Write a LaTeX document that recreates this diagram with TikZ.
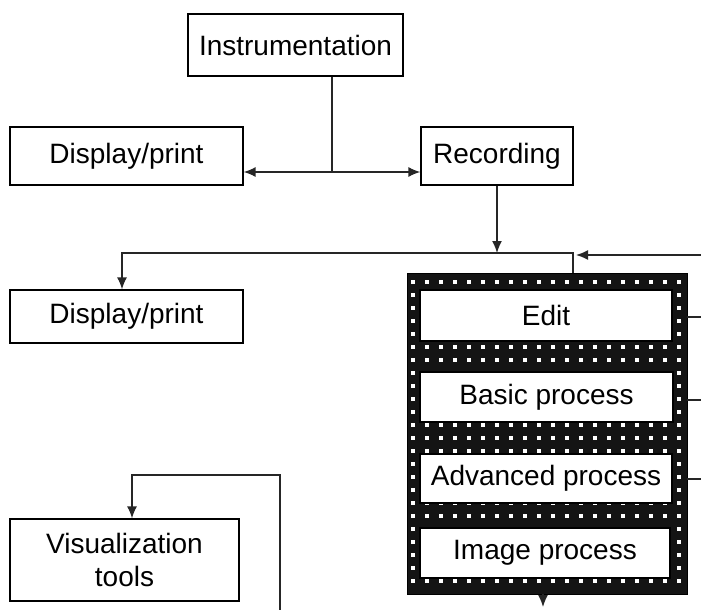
\documentclass[tikz,border=0pt]{standalone}
\usepackage{fontspec}
\setmainfont{Liberation Sans}
\usetikzlibrary{arrows.meta}
\tikzset{
  box/.style={draw=black, line width=1.2pt, fill=white, inner sep=0pt, align=center,
    font=\fontsize{28}{33}\selectfont},
  conn/.style={draw=black!85, line width=1.5pt},
  arr/.style={conn, -{Latex[length=12pt,width=10pt]}},
  darr/.style={conn, {Latex[length=12pt,width=10pt]}-{Latex[length=12pt,width=10pt]}}
}
\begin{document}
\begin{tikzpicture}[x=1pt,y=-1pt]
\useasboundingbox (0,0) rectangle (701,610);
% boxes
\node[box, minimum width=215pt, minimum height=62pt] (instr) at (295.5,45) {Instrumentation};
\node[box, minimum width=233pt, minimum height=58pt] (disp1) at (126.5,156) {Display/print};
\node[box, minimum width=152pt, minimum height=58pt] (rec) at (497,156) {Recording};
\node[box, minimum width=233pt, minimum height=53pt] (disp2) at (126.5,316.5) {Display/print};
\node[box, minimum width=229pt, minimum height=82pt] (vis) at (124.5,560) {Visualization\\tools};
% dotted frame
\node[fill=black!92, draw=black, minimum width=280pt, minimum height=321pt, inner sep=0pt] (outer) at (547,433.5) {};
\foreach \i in {0,...,19}{
  \foreach \j in {0,...,23}{
    \fill[white] ({413+14*\i-1.8},{282+13*\j-1.8}) rectangle ++(3.6,3.6);
  }
}
\node[box, minimum width=252pt, minimum height=51pt] (edit) at (546,315.5) {Edit};
\node[box, minimum width=253pt, minimum height=50pt] (basic) at (546.5,397) {Basic process};
\node[box, minimum width=252pt, minimum height=49pt] (adv) at (546,478.5) {Advanced process};
\node[box, minimum width=250pt, minimum height=50pt] (img) at (545,553) {Image process};
% coordinates
\coordinate (j1) at (332,172);
\coordinate (bus) at (497,253);
\coordinate (busL) at (122,253);
\coordinate (busR) at (573,253);
\coordinate (fbR) at (701,255);
\coordinate (fbT) at (576,255);
\coordinate (r1) at (701,317);
\coordinate (r2) at (701,400);
\coordinate (r3) at (701,479);
\coordinate (outB) at (543,607);
\coordinate (loopS) at (280,610);
\coordinate (loopT) at (280,475);
\coordinate (loopL) at (132,475);
% connectors
\draw[conn] (instr.south -| j1) -- (j1);
\draw[darr] (disp1.east |- j1) -- (rec.west |- j1);
\draw[arr] (rec.south -| bus) -- (bus);
\draw[arr] (outer.north -| busR) -- (busR) -- (busL) -- (disp2.north -| busL);
\draw[arr] (fbR) -- (fbT);
\draw[conn] (outer.east |- r1) -- (r1);
\draw[conn] (outer.east |- r2) -- (r2);
\draw[conn] (outer.east |- r3) -- (r3);
\draw[arr] (outer.south -| outB) -- (outB);
\draw[arr] (loopS) -- (loopT) -- (loopL) -- (vis.north -| loopL);
\end{tikzpicture}
\end{document}
